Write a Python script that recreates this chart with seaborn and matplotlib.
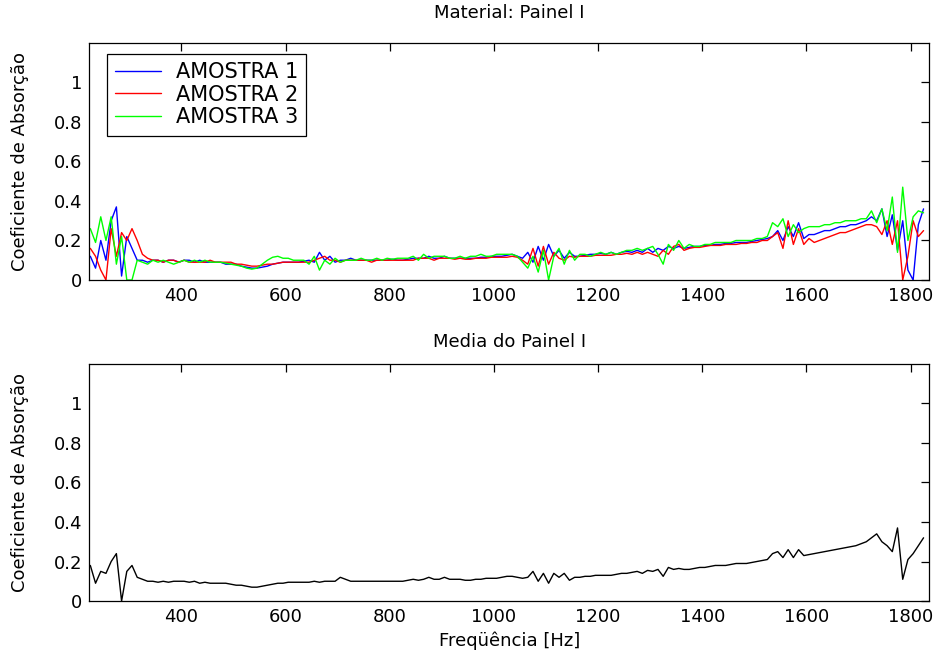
import numpy as np
import pandas as pd
import matplotlib
matplotlib.use('Agg')
import matplotlib.pyplot as plt
import seaborn as sns

# frequency grid (Hz), one point every 10 Hz
freq = np.arange(225, 1826, 10)

amostra1 = [
    0.12, 0.06, 0.20, 0.10, 0.30, 0.37, 0.02, 0.22, 0.16, 0.10,
    0.10, 0.09, 0.10, 0.10, 0.09, 0.10, 0.10, 0.09, 0.10, 0.10,
    0.09, 0.10, 0.09, 0.09, 0.09, 0.09, 0.08, 0.08, 0.08, 0.07,
    0.065, 0.06, 0.06, 0.065, 0.07, 0.08, 0.085, 0.09, 0.09, 0.09,
    0.09, 0.095, 0.10, 0.09, 0.14, 0.10, 0.12, 0.09, 0.10, 0.10,
    0.11, 0.10, 0.10, 0.10, 0.10, 0.10, 0.10, 0.10, 0.105, 0.10,
    0.10, 0.105, 0.11, 0.11, 0.11, 0.12, 0.11, 0.11, 0.12, 0.11,
    0.11, 0.11, 0.11, 0.11, 0.11, 0.115, 0.115, 0.12, 0.12, 0.12,
    0.125, 0.13, 0.12, 0.11, 0.14, 0.09, 0.17, 0.10, 0.18, 0.12,
    0.15, 0.11, 0.14, 0.12, 0.12, 0.125, 0.13, 0.13, 0.135, 0.13,
    0.14, 0.13, 0.14, 0.145, 0.14, 0.15, 0.14, 0.16, 0.14, 0.16,
    0.15, 0.17, 0.16, 0.17, 0.16, 0.165, 0.17, 0.17, 0.175, 0.175,
    0.18, 0.18, 0.185, 0.185, 0.19, 0.19, 0.19, 0.195, 0.20, 0.205,
    0.21, 0.22, 0.25, 0.20, 0.27, 0.22, 0.29, 0.21, 0.23, 0.23,
    0.24, 0.25, 0.25, 0.26, 0.27, 0.27, 0.28, 0.28, 0.29, 0.30,
    0.32, 0.30, 0.36, 0.22, 0.33, 0.15, 0.30, 0.05, 0.00, 0.28,
    0.36,
]

amostra2 = [
    0.16, 0.12, 0.05, 0.00, 0.26, 0.12, 0.24, 0.20, 0.26, 0.20,
    0.13, 0.11, 0.10, 0.10, 0.09, 0.10, 0.10, 0.09, 0.10, 0.09,
    0.09, 0.09, 0.09, 0.10, 0.09, 0.09, 0.09, 0.09, 0.08, 0.08,
    0.075, 0.07, 0.07, 0.075, 0.08, 0.08, 0.085, 0.09, 0.09, 0.09,
    0.09, 0.09, 0.09, 0.10, 0.11, 0.12, 0.10, 0.10, 0.09, 0.10,
    0.10, 0.10, 0.10, 0.10, 0.09, 0.10, 0.10, 0.10, 0.10, 0.10,
    0.10, 0.10, 0.10, 0.11, 0.11, 0.11, 0.10, 0.11, 0.11, 0.11,
    0.105, 0.11, 0.105, 0.105, 0.11, 0.11, 0.11, 0.115, 0.115, 0.115,
    0.115, 0.12, 0.115, 0.10, 0.08, 0.16, 0.07, 0.17, 0.08, 0.14,
    0.11, 0.10, 0.12, 0.115, 0.12, 0.12, 0.12, 0.125, 0.125, 0.125,
    0.125, 0.13, 0.13, 0.135, 0.13, 0.14, 0.13, 0.14, 0.13, 0.12,
    0.15, 0.13, 0.17, 0.18, 0.15, 0.16, 0.165, 0.165, 0.17, 0.175,
    0.175, 0.175, 0.18, 0.18, 0.18, 0.185, 0.185, 0.19, 0.19, 0.20,
    0.20, 0.22, 0.24, 0.16, 0.30, 0.18, 0.26, 0.18, 0.21, 0.19,
    0.20, 0.21, 0.22, 0.23, 0.24, 0.24, 0.25, 0.26, 0.27, 0.28,
    0.28, 0.27, 0.23, 0.30, 0.18, 0.30, 0.00, 0.12, 0.30, 0.22,
    0.25,
]

amostra3 = [
    0.26, 0.19, 0.32, 0.20, 0.32, 0.08, 0.22, 0.00, 0.00, 0.10,
    0.09, 0.08, 0.10, 0.09, 0.10, 0.09, 0.08, 0.09, 0.10, 0.09,
    0.10, 0.09, 0.10, 0.09, 0.09, 0.09, 0.085, 0.08, 0.075, 0.07,
    0.06, 0.055, 0.06, 0.08, 0.10, 0.115, 0.12, 0.11, 0.11, 0.10,
    0.10, 0.10, 0.08, 0.12, 0.05, 0.10, 0.08, 0.11, 0.09, 0.10,
    0.10, 0.10, 0.11, 0.10, 0.10, 0.11, 0.10, 0.11, 0.105, 0.11,
    0.11, 0.11, 0.12, 0.10, 0.13, 0.11, 0.12, 0.12, 0.12, 0.11,
    0.11, 0.12, 0.11, 0.12, 0.12, 0.13, 0.12, 0.12, 0.13, 0.13,
    0.13, 0.13, 0.12, 0.09, 0.06, 0.12, 0.04, 0.15, 0.00, 0.12,
    0.16, 0.08, 0.15, 0.10, 0.13, 0.13, 0.12, 0.13, 0.14, 0.13,
    0.14, 0.13, 0.14, 0.15, 0.15, 0.16, 0.15, 0.16, 0.17, 0.13,
    0.08, 0.18, 0.15, 0.20, 0.16, 0.18, 0.17, 0.17, 0.18, 0.18,
    0.19, 0.19, 0.19, 0.19, 0.20, 0.20, 0.20, 0.20, 0.21, 0.21,
    0.22, 0.29, 0.27, 0.31, 0.22, 0.28, 0.24, 0.26, 0.27, 0.27,
    0.27, 0.28, 0.28, 0.29, 0.29, 0.30, 0.30, 0.30, 0.31, 0.31,
    0.35, 0.29, 0.36, 0.25, 0.42, 0.14, 0.47, 0.20, 0.32, 0.35,
    0.34,
]

media = [
    0.18, 0.09, 0.15, 0.14, 0.20, 0.24, 0.00, 0.15, 0.18, 0.12,
    0.11, 0.10, 0.10, 0.095, 0.10, 0.095, 0.10, 0.10, 0.10, 0.095,
    0.10, 0.09, 0.095, 0.09, 0.09, 0.09, 0.09, 0.085, 0.08, 0.08,
    0.075, 0.07, 0.07, 0.075, 0.08, 0.085, 0.09, 0.09, 0.095, 0.095,
    0.095, 0.095, 0.095, 0.10, 0.095, 0.10, 0.10, 0.10, 0.12, 0.11,
    0.10, 0.10, 0.10, 0.10, 0.10, 0.10, 0.10, 0.10, 0.10, 0.10,
    0.10, 0.105, 0.11, 0.105, 0.11, 0.12, 0.11, 0.11, 0.12, 0.11,
    0.11, 0.11, 0.105, 0.105, 0.11, 0.11, 0.115, 0.115, 0.115, 0.12,
    0.125, 0.125, 0.12, 0.115, 0.12, 0.15, 0.10, 0.14, 0.09, 0.14,
    0.12, 0.14, 0.105, 0.12, 0.12, 0.125, 0.125, 0.13, 0.13, 0.13,
    0.13, 0.135, 0.14, 0.14, 0.145, 0.15, 0.14, 0.155, 0.15, 0.16,
    0.125, 0.17, 0.16, 0.165, 0.16, 0.16, 0.165, 0.17, 0.17, 0.175,
    0.18, 0.18, 0.18, 0.185, 0.19, 0.19, 0.19, 0.195, 0.20, 0.205,
    0.21, 0.24, 0.25, 0.22, 0.26, 0.22, 0.26, 0.23, 0.235, 0.24,
    0.245, 0.25, 0.255, 0.26, 0.265, 0.27, 0.275, 0.28, 0.29, 0.30,
    0.32, 0.34, 0.30, 0.28, 0.25, 0.37, 0.11, 0.21, 0.24, 0.28,
    0.32,
]

series_names = ['AMOSTRA 1', 'AMOSTRA 2', 'AMOSTRA 3']
series_colors = ['#0000ff', '#ff0000', '#00ff00']
xticks = [400, 600, 800, 1000, 1200, 1400, 1600, 1800]
yticks = [0, 0.2, 0.4, 0.6, 0.8, 1]
ytick_labels = ['0', '0.2', '0.4', '0.6', '0.8', '1']

df = pd.DataFrame({'freq': freq, 'AMOSTRA 1': amostra1, 'AMOSTRA 2': amostra2,
                   'AMOSTRA 3': amostra3, 'media': media})

sns.set_style('white')
plt.rcParams['font.family'] = ['DejaVu Sans']
plt.rcParams['font.size'] = 13
plt.rcParams['text.color'] = 'black'
plt.rcParams['axes.labelcolor'] = 'black'
plt.rcParams['xtick.color'] = 'black'
plt.rcParams['ytick.color'] = 'black'

fig = plt.figure(figsize=(9.4, 6.63), dpi=100)
ax1 = fig.add_axes([0.095, 0.5777, 0.8936, 0.3575])
ax2 = fig.add_axes([0.095, 0.0935, 0.8936, 0.3575])

for name, col in zip(series_names, series_colors):
    sns.lineplot(data=df, x='freq', y=name, color=col, linewidth=1.0, label=name, ax=ax1)
sns.lineplot(data=df, x='freq', y='media', color='black', linewidth=1.0, ax=ax2)

for ax in (ax1, ax2):
    ax.set_xlim(223, 1836)
    ax.set_ylim(0, 1.2)
    ax.set_xticks(xticks)
    ax.set_yticks(yticks)
    ax.set_yticklabels(ytick_labels)
    ax.tick_params(direction='in', length=6, width=0.9, top=True, right=True,
                   labelsize=13, pad=5, colors='black')
    for s in ax.spines.values():
        s.set_color('black')
        s.set_linewidth(0.9)
    ax.set_ylabel('Coeficiente de Absorção', fontsize=13, labelpad=18)

ax1.set_xlabel('')
ax2.set_xlabel('Freqüência [Hz]', fontsize=13, labelpad=4)
ax1.set_title('Material: Painel I', fontsize=13, pad=18)
ax2.set_title('Media do Painel I', fontsize=13, pad=12)

leg = ax1.legend(loc='upper left', bbox_to_anchor=(0.021, 0.954), borderaxespad=0,
                 fontsize=15, handlelength=2.2, handletextpad=0.7,
                 labelspacing=0.12, borderpad=0.4, fancybox=False, framealpha=1)
leg.get_frame().set_edgecolor('black')
leg.get_frame().set_linewidth(0.9)

fig.savefig('out.png', dpi=100)
